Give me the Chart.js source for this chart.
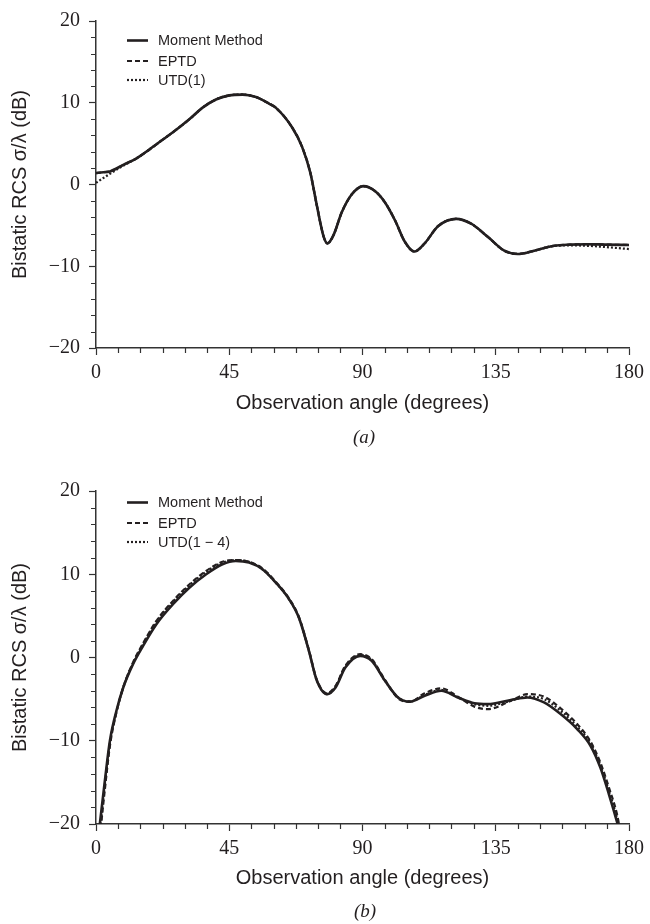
<!DOCTYPE html>
<html lang="en">
<head>
  <meta charset="UTF-8">
  <title>Bistatic RCS</title>
  <style>
    body {
      margin: 0;
      padding: 0;
      background: #fff;
      width: 650px;
      height: 924px;
      position: relative;
      overflow: hidden;
    }
    canvas {
      position: absolute;
      left: 0;
    }
    #chartA { top: 0; }
    #chartB { top: 462px; }
    .caption {
      position: absolute;
      width: 60px;
      margin-left: -30px;
      text-align: center;
      font-family: "Liberation Serif", serif;
      font-style: italic;
      font-size: 19px;
      color: #231f20;
      line-height: 20px;
    }
  </style>
  <script src="https://cdn.jsdelivr.net/npm/chart.js"></script>
</head>
<body>
  <canvas id="chartA" width="650" height="462"></canvas>
  <canvas id="chartB" width="650" height="462"></canvas>
  <div class="caption" style="left:364px; top:427px;">(a)</div>
  <div class="caption" style="left:365px; top:901px;">(b)</div>
  <script>
    // (a) observation angles (degrees) and RCS values (dB)
    const anglesA = [0, 2.5, 4.7, 9.2, 13.7, 18.1, 22.6, 27.1, 31.6, 36, 40.5, 45, 49.5, 54, 58.4, 60.7,
      66.2, 69.6, 72.4, 74.6, 76.9, 78.2, 80.2, 83, 86.4, 90.3, 94.2, 97.6, 101, 104.3, 107.5, 111,
      115.5, 121.7, 126.7, 132.3, 137.9, 142.4, 148, 154.7, 160, 165.9, 172, 180];
    const momentA = [1.4, 1.5, 1.6, 2.4, 3.2, 4.3, 5.5, 6.7, 8.0, 9.4, 10.4, 10.9, 11.0, 10.7, 9.9, 9.4,
      7.0, 4.6, 1.4, -2.6, -6.4, -7.2, -6.2, -3.4, -1.2, -0.2, -0.8, -2.2, -4.4, -7.0, -8.2, -7.2,
      -5.1, -4.2, -4.8, -6.4, -8.1, -8.5, -8.1, -7.5, -7.35, -7.3, -7.35, -7.4];
    const eptdA = [1.4, 1.5, 1.6, 2.4, 3.2, 4.3, 5.5, 6.7, 8.0, 9.4, 10.4, 10.9, 11.0, 10.7, 9.9, 9.4,
      7.0, 4.6, 1.4, -2.6, -6.4, -7.2, -6.2, -3.4, -1.2, -0.2, -0.8, -2.2, -4.4, -7.0, -8.2, -7.2,
      -5.1, -4.2, -4.8, -6.4, -8.1, -8.5, -8.1, -7.5, -7.35, -7.3, -7.35, -7.4];
    const utdA = [0.2, 0.8, 1.3, 2.3, 3.2, 4.3, 5.5, 6.7, 8.0, 9.4, 10.4, 10.9, 11.0, 10.7, 9.9, 9.4,
      7.0, 4.6, 1.4, -2.6, -6.4, -7.2, -6.2, -3.4, -1.2, -0.2, -0.8, -2.2, -4.4, -7.0, -8.2, -7.2,
      -5.1, -4.2, -4.8, -6.4, -8.1, -8.5, -8.1, -7.5, -7.45, -7.5, -7.65, -7.9];

    // (b)
    const anglesB = [1.3, 3, 4.7, 6.9, 9.2, 12.5, 15.9, 20.4, 26, 31.6, 37.2, 42.7, 47.2, 51.7, 56.2,
      60.7, 65.2, 68.5, 71.9, 74.6, 78, 80.9, 84.2, 89.2, 93.1, 97.6, 102, 106, 111, 116.6, 122.2,
      127.8, 132.3, 140.1, 145.7, 151.3, 156.9, 162.5, 167, 170.3, 173.2, 176, 176.6];
    const momentB = [-20, -14.8, -10, -6.4, -3.6, -0.8, 1.4, 4.0, 6.4, 8.4, 10.0, 11.2, 11.6, 11.4, 10.6,
      9.0, 7.0, 4.8, 0.8, -2.8, -4.4, -3.6, -1.2, 0.2, -0.4, -2.8, -4.8, -5.3, -4.6, -4.0, -4.8,
      -5.5, -5.6, -5.1, -4.8, -5.4, -6.8, -8.6, -10.6, -13.2, -16.4, -19.8, -20.6];
    const eptdB = [-21.5, -15.8, -10.6, -6.6, -3.6, -0.6, 1.7, 4.4, 6.8, 8.8, 10.4, 11.5, 11.7, 11.5, 10.7,
      9.1, 7.1, 4.9, 0.9, -2.7, -4.3, -3.4, -1.0, 0.4, -0.2, -2.7, -4.9, -5.3, -4.3, -3.7, -4.7,
      -5.9, -6.2, -5.2, -4.4, -4.7, -6.1, -8.0, -10.1, -12.6, -15.6, -18.9, -20.0];
    const utdB = [-21.0, -15.3, -10.3, -6.5, -3.6, -0.7, 1.6, 4.3, 6.7, 8.7, 10.3, 11.4, 11.7, 11.5, 10.6,
      9.0, 7.0, 4.8, 0.8, -2.8, -4.4, -3.5, -1.1, 0.3, -0.3, -2.8, -4.8, -5.3, -4.5, -3.9, -4.8,
      -5.6, -5.8, -5.2, -4.7, -5.0, -6.4, -8.3, -10.3, -12.9, -16.0, -19.3, -20.1];

    const xTicks = [0, 45, 90, 135, 180];
    const yTicks = [-20, -10, 0, 10, 20];

    const ink = '#231f20';
    const axisColor = '#333';

    function pts(xs, ys) {
      return xs.map((x, i) => ({ x: x, y: ys[i] }));
    }

    // legend drawn inside the plot, top-left
    const innerLegend = {
      id: 'innerLegend',
      afterDraw(chart) {
        const ctx = chart.ctx;
        const rows = [40.5, 61, 80];
        ctx.save();
        chart.data.datasets.forEach((ds, i) => {
          const y = rows[i];
          ctx.beginPath();
          ctx.strokeStyle = ink;
          ctx.lineWidth = ds.borderWidth;
          ctx.setLineDash(ds.borderDash || []);
          ctx.moveTo(127, y);
          ctx.lineTo(148, y);
          ctx.stroke();
          ctx.setLineDash([]);
          ctx.fillStyle = ink;
          ctx.font = '14.5px "Liberation Sans", Arial, sans-serif';
          ctx.textBaseline = 'middle';
          ctx.textAlign = 'left';
          ctx.fillText(ds.label, 158, y + 0.5);
        });
        ctx.restore();
      }
    };

    // shorter minor ticks (major ones come from the grid)
    const minorTicks = {
      id: 'minorTicks',
      afterDraw(chart) {
        const ctx = chart.ctx;
        const xs = chart.scales.x, ys = chart.scales.y;
        const area = chart.chartArea;
        ctx.save();
        ctx.strokeStyle = axisColor;
        ctx.lineWidth = 1.2;
        ctx.beginPath();
        xs.ticks.forEach(t => {
          if (xTicks.includes(t.value)) return;
          const px = Math.round(xs.getPixelForValue(t.value)) + 0.5;
          ctx.moveTo(px, area.bottom);
          ctx.lineTo(px, area.bottom + 5);
        });
        ys.ticks.forEach(t => {
          if (yTicks.includes(t.value)) return;
          const py = Math.round(ys.getPixelForValue(t.value)) + 0.5;
          ctx.moveTo(area.left, py);
          ctx.lineTo(area.left - 5, py);
        });
        ctx.stroke();
        ctx.restore();
      }
    };

    function tickColor(list) {
      return (c) => (c.tick && list.includes(c.tick.value)) ? axisColor : 'rgba(0,0,0,0)';
    }

    function makeChart(id, angles, mm, eptd, utd, utdLabel, padTop, xHeight, titlePad) {
      const ctx = document.getElementById(id).getContext('2d');
      return new Chart(ctx, {
        type: 'line',
        data: {
          datasets: [
            { label: 'Moment Method', data: pts(angles, mm), borderColor: ink, borderWidth: 2.6 },
            { label: 'EPTD', data: pts(angles, eptd), borderColor: ink, borderWidth: 2.2, borderDash: [5, 3] },
            { label: utdLabel, data: pts(angles, utd), borderColor: ink, borderWidth: 2.2, borderDash: [2, 2] }
          ]
        },
        options: {
          responsive: false,
          animation: false,
          events: [],
          layout: { padding: { top: padTop, right: 17, left: 0, bottom: 0 } },
          elements: {
            point: { radius: 0 },
            line: { cubicInterpolationMode: 'monotone', fill: false }
          },
          plugins: {
            legend: { display: false },
            tooltip: { enabled: false }
          },
          scales: {
            x: {
              type: 'linear',
              min: 0,
              max: 180,
              afterFit: (s) => { s.height = xHeight; },
              afterBuildTicks: (s) => {
                const t = [];
                for (let v = 0; v <= 180; v += 7.5) t.push({ value: v });
                s.ticks = t;
              },
              border: { display: true, color: axisColor, width: 1.5 },
              grid: {
                drawOnChartArea: false,
                tickLength: 7,
                tickWidth: 1.2,
                tickColor: tickColor(xTicks)
              },
              ticks: {
                autoSkip: false,
                maxRotation: 0,
                padding: 6,
                color: ink,
                font: { family: '"Liberation Serif", "Times New Roman", serif', size: 20 },
                callback: (v) => xTicks.includes(v) ? String(v) : ''
              },
              title: {
                display: true,
                text: 'Observation angle (degrees)',
                color: ink,
                font: { family: '"Liberation Sans", Arial, sans-serif', size: 20 },
                padding: { top: 0, bottom: titlePad }
              }
            },
            y: {
              min: -20,
              max: 20,
              afterFit: (s) => { s.width = 96; },
              border: { display: true, color: axisColor, width: 1.5 },
              grid: {
                drawOnChartArea: false,
                tickLength: 7,
                tickWidth: 1.2,
                tickColor: tickColor(yTicks)
              },
              ticks: {
                stepSize: 2,
                autoSkip: false,
                padding: 9,
                color: ink,
                font: { family: '"Liberation Serif", "Times New Roman", serif', size: 20 },
                callback: (v) => yTicks.includes(v) ? String(v).replace('-', '\u2212') : ''
              },
              title: {
                display: true,
                text: 'Bistatic RCS \u03c3/\u03bb (dB)',
                color: ink,
                font: { family: '"Liberation Sans", Arial, sans-serif', size: 20 },
                padding: { top: 8, bottom: 0 }
              }
            }
          }
        },
        plugins: [innerLegend, minorTicks]
      });
    }

    makeChart('chartA', anglesA, momentA, eptdA, utdA, 'UTD(1)', 15, 114, 47);
    makeChart('chartB', anglesB, momentB, eptdB, utdB, 'UTD(1 \u2212 4)', 29, 100, 34);
  </script>
</body>
</html>
